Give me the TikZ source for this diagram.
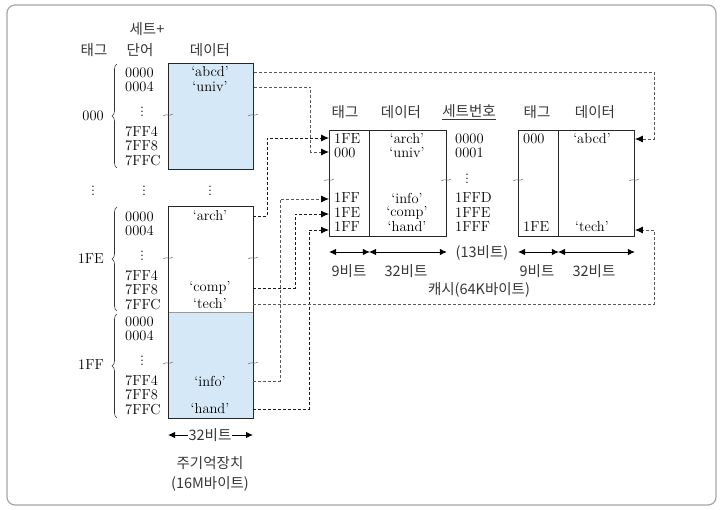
\documentclass[tikz,border=0pt]{standalone}
\usepackage{fontspec}
\newfontfamily\kr{Noto Sans CJK KR}
\usetikzlibrary{arrows.meta,decorations.pathreplacing}
\definecolor{memblue}{RGB}{212,232,247}
\definecolor{ktext}{RGB}{55,55,55}
\newcommand\breakmark[2]{\draw[black!60,line width=0.5pt] (#1-5,#2+1) .. controls (#1-1,#2-2) and (#1+1,#2+2) .. (#1+5,#2-1);}
\begin{document}
\begin{tikzpicture}[x=1pt,y=-1pt,
  num/.style={font=\fontsize{14.5}{16}\selectfont, inner sep=0pt},
  krt/.style={font=\kr\fontsize{14.5}{16}\selectfont, text=ktext, inner sep=0pt},
  boxline/.style={draw=black!85, line width=0.9pt},
  conn/.style={line width=0.9pt, dash pattern=on 3pt off 2pt, -{Latex[length=8pt,width=7pt,black]}},
  conndark/.style={conn, black!90},
  connlight/.style={conn, black!65},
  dim/.style={line width=0.9pt, {Latex[length=7pt,width=6.5pt]}-{Latex[length=7pt,width=6.5pt]}},
  brc/.style={decorate, decoration={brace, amplitude=5pt}, line width=0.6pt, black!80}
]
\useasboundingbox (0,0) rectangle (720,509);
\fill[white] (0,0) rectangle (720,509);
\draw[black!35, line width=1.2pt, rounded corners=8pt] (7,5) rectangle (716,505);

% headers (main memory)
\node[krt] (hset) at (147,29) {세트+};
\node[krt] (htag) at (94,50) {태그};
\node[krt] (hword) at (140,50) {단어};
\node[krt] (hdata) at (210,50) {데이터};

% memory boxes
\node[boxline, fill=memblue, minimum width=85, minimum height=106, anchor=north west, inner sep=0pt] (m0) at (168,63) {};
\node[fill=white, minimum width=85, minimum height=105.5, anchor=north west, inner sep=0pt] (m1) at (168,206.5) {};
\node[fill=memblue, minimum width=85, minimum height=106, anchor=north west, inner sep=0pt] (m2) at (168,312) {};
\draw[black!40, line width=0.6pt] (m1.south west) -- (m1.south east);
\draw[boxline] (m1.north west) rectangle (m2.south east);

% memory address labels
\foreach \b/\top in {0/63,1/206.5,2/312} {
  \foreach \t/\dy/\k in {0000/10/1,0004/24/2,7FF4/69/4,7FF8/83/5,7FFC/98/6}
    \node[num, anchor=west] (L\b-\k) at (125,\top+\dy) {\t};
  \node[num] (L\b-3) at (142,\top+46) {$\vdots$};
}
\breakmark{168}{115}\breakmark{253}{115}
\breakmark{168}{258}\breakmark{253}{258}
\breakmark{168}{363}\breakmark{253}{363}

% tags and braces
\node[num, anchor=east] (tg0) at (104,116) {000};
\node[num, anchor=east] (tg1) at (104,259) {1FE};
\node[num, anchor=east] (tg2) at (104,365) {1FF};
\draw[brc] (117,168) -- (117,64);
\draw[brc] (117,311) -- (117,207);
\draw[brc] (117,418) -- (117,314);

\node[num] (vd1) at (93,188) {$\vdots$};
\node[num] (vd2) at (144,188) {$\vdots$};
\node[num] (vd3) at (210,188) {$\vdots$};

% memory data
\node[num] (abcd) at (210,72) {`abcd'};
\node[num] (univ) at (210,87) {`univ'};
\node[num] (arch) at (210,216) {`arch'};
\node[num] (comp) at (210,288) {`comp'};
\node[num] (tech) at (210,304) {`tech'};
\node[num] (info) at (210,381) {`info'};
\node[num] (hand) at (210,409) {`hand'};

% memory size
\node[krt] (w32) at (210,435) {32비트};
\coordinate (w32l) at (168,435);
\coordinate (w32r) at (253,435);
\draw[line width=0.9pt, -{Latex[length=7pt,width=6.5pt]}] (w32.west) -- (w32l);
\draw[line width=0.9pt, -{Latex[length=7pt,width=6.5pt]}] (w32.east) -- (w32r);
\node[krt] (mmname) at (210,463) {주기억장치};
\node[krt] (mmsize) at (210,484) {(16M바이트)};

% cache headers
\node[krt] (ch1) at (345,112) {태그};
\node[krt] (ch2) at (401,112) {데이터};
\node[krt] (ch3) at (469,112) {\underline{세트번호}};
\node[krt] (ch4) at (537,112) {태그};
\node[krt] (ch5) at (595,112) {데이터};

% cache boxes
\node[boxline, minimum width=40, minimum height=106, anchor=north west, inner sep=0pt] (c1t) at (329,130) {};
\node[boxline, minimum width=77, minimum height=106, anchor=north west, inner sep=0pt] (c1d) at (369,130) {};
\node[boxline, minimum width=40, minimum height=106, anchor=north west, inner sep=0pt] (c2t) at (518,130) {};
\node[boxline, minimum width=76, minimum height=106, anchor=north west, inner sep=0pt] (c2d) at (558,130) {};
\breakmark{329}{180}\breakmark{446}{180}
\breakmark{518}{180}\breakmark{634}{180}

% cache 1 rows
\node[num, anchor=west] (t1) at (334,139) {1FE};
\node[num, anchor=west] (t2) at (334,153) {000};
\node[num, anchor=west] (t3) at (334,198) {1FF};
\node[num, anchor=west] (t4) at (334,213) {1FE};
\node[num, anchor=west] (t5) at (334,227) {1FF};
\node[num] (d1) at (407,139) {`arch'};
\node[num] (d2) at (407,153) {`univ'};
\node[num] (d3) at (407,198) {`info'};
\node[num] (d4) at (407,213) {`comp'};
\node[num] (d5) at (407,227) {`hand'};
% set numbers
\node[num, anchor=west] (s1) at (455,139) {0000};
\node[num, anchor=west] (s2) at (455,153) {0001};
\node[num] (s3) at (467,176) {$\vdots$};
\node[num, anchor=west] (s4) at (455,198) {1FFD};
\node[num, anchor=west] (s5) at (455,213) {1FFE};
\node[num, anchor=west] (s6) at (455,227) {1FFF};
% cache 2 rows
\node[num, anchor=west] (u1) at (523,139) {000};
\node[num] (e1) at (592,139) {`abcd'};
\node[num, anchor=west] (u5) at (523,227) {1FE};
\node[num] (e5) at (592,227) {`tech'};

% cache dimensions
\coordinate (drow) at (0,252);
\draw[dim] (c1t.west |- drow) -- (c1t.east |- drow);
\draw[dim] (c1d.west |- drow) -- (c1d.east |- drow);
\draw[dim] (c2t.west |- drow) -- (c2t.east |- drow);
\draw[dim] (c2d.west |- drow) -- (c2d.east |- drow);
\node[krt] (b13) at (482,253) {(13비트)};
\node[krt] (b9a) at (349,271) {9비트};
\node[krt] (b32a) at (406,271) {32비트};
\node[krt] (b9b) at (537,271) {9비트};
\node[krt] (b32b) at (594,271) {32비트};
\node[krt] (cname) at (479,290) {캐시(64K바이트)};

% connectors
\coordinate (xA) at (654,0);
\coordinate (xB) at (310.5,0);
\coordinate (xC) at (267,0);
\coordinate (xD) at (280,0);
\coordinate (xE) at (295,0);
\coordinate (xF) at (309,0);
\coordinate (yA) at (0,139);
\coordinate (yB) at (0,152);
\coordinate (yC) at (0,138);
\coordinate (yD) at (0,199);
\coordinate (yE) at (0,214);
\coordinate (yF) at (0,230);
\coordinate (yG) at (0,230);
\draw[connlight] (abcd -| m0.east) -| (xA |- yA) -- (c2d.east |- yA);
\draw[connlight] (univ -| m0.east) -| (xB |- yB) -- (c1t.west |- yB);
\draw[conndark] (arch -| m1.east) -| (xC |- yC) -- (c1t.west |- yC);
\draw[connlight] (info -| m2.east) -| (xD |- yD) -- (c1t.west |- yD);
\draw[conndark] (comp -| m1.east) -| (xE |- yE) -- (c1t.west |- yE);
\draw[conndark] (hand -| m2.east) -| (xF |- yF) -- (c1t.west |- yF);
\draw[connlight] (tech -| m1.east) -| (xA |- yG) -- (c2d.east |- yG);
\end{tikzpicture}
\end{document}
